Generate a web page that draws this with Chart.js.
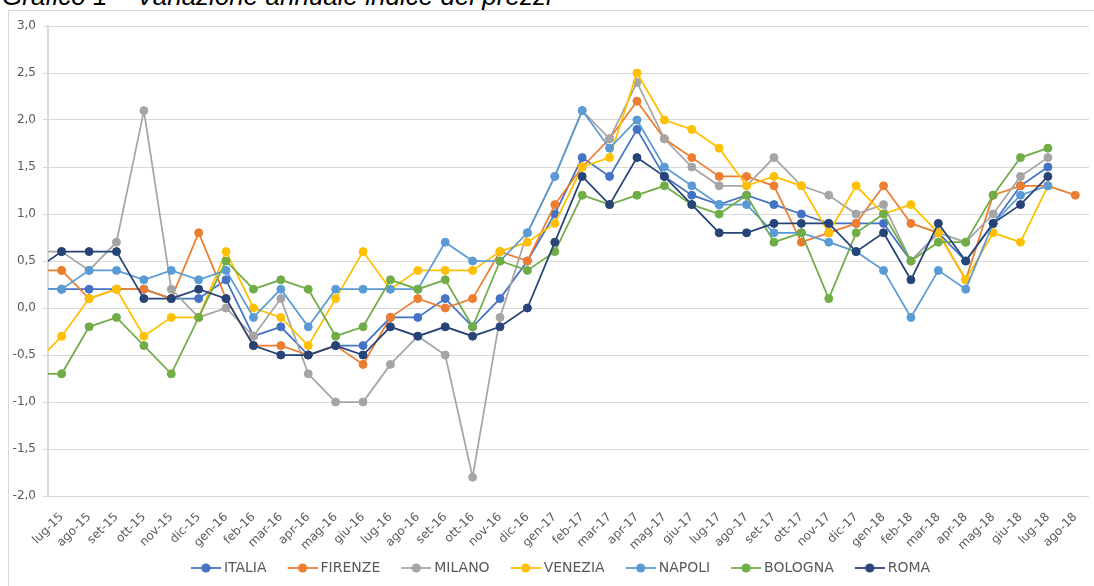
<!DOCTYPE html>
<html><head><meta charset="utf-8">
<script src="https://cdn.jsdelivr.net/npm/chart.js@4.4.1/dist/chart.umd.min.js"></script>
<style>
html,body{margin:0;padding:0;background:#fff;overflow:hidden;}
#wrap{position:relative;width:1094px;height:586px;overflow:hidden;background:#fff;}
#frame{position:absolute;left:8px;top:10px;width:1200px;height:700px;border:1px solid #d9d9d9;box-sizing:border-box;}
#title{position:absolute;left:2px;top:-16px;font:italic 26px "Liberation Sans",Arial,sans-serif;line-height:25px;color:#000;white-space:nowrap;}
canvas{position:absolute;left:0;top:0;}
</style></head><body>
<div id="wrap"><div id="frame"></div><div id="title">Grafico 1 – Variazione annuale indice dei prezzi</div><canvas id="c" width="1094" height="586"></canvas></div>
<script>
// index 0 = giu-15 (only its connecting segment is visible, clipped at the axis)
const categories = ['giu-15','lug-15','ago-15','set-15','ott-15','nov-15','dic-15','gen-16','feb-16','mar-16','apr-16','mag-16','giu-16','lug-16','ago-16','set-16','ott-16','nov-16','dic-16','gen-17','feb-17','mar-17','apr-17','mag-17','giu-17','lug-17','ago-17','set-17','ott-17','nov-17','dic-17','gen-18','feb-18','mar-18','apr-18','mag-18','giu-18','lug-18','ago-18'];
const seriesNames = ['ITALIA','FIRENZE','MILANO','VENEZIA','NAPOLI','BOLOGNA','ROMA'];
const seriesColors = ['#4472C4','#ED7D31','#A5A5A5','#FFC000','#5B9BD5','#70AD47','#264478'];
const ITALIA  = [0.2, 0.2,0.2,0.2,0.2,0.1,0.1,0.3,-0.3,-0.2,-0.5,-0.4,-0.4,-0.1,-0.1,0.1,-0.2,0.1,0.5, 1.0,1.6,1.4,1.9,1.4,1.2,1.1,1.2,1.1,1.0,0.9,0.9, 0.9,0.5,0.8,0.5,0.9,1.3,1.5,null];
const FIRENZE = [0.4, 0.4,0.1,0.2,0.2,0.1,0.8,0.1,-0.4,-0.4,-0.5,-0.4,-0.6,-0.1,0.1,0.0,0.1,0.6,0.5, 1.1,1.5,1.8,2.2,1.8,1.6,1.4,1.4,1.3,0.7,0.8,0.9, 1.3,0.9,0.8,0.3,1.2,1.3,1.3,1.2];
const MILANO  = [0.6, 0.6,0.4,0.7,2.1,0.2,-0.1,0.0,-0.3,0.1,-0.7,-1.0,-1.0,-0.6,-0.3,-0.5,-1.8,-0.1,0.8, 1.4,2.1,1.8,2.4,1.8,1.5,1.3,1.3,1.6,1.3,1.2,1.0, 1.1,0.5,0.8,0.7,1.0,1.4,1.6,null];
const VENEZIA = [-0.6, -0.3,0.1,0.2,-0.3,-0.1,-0.1,0.6,0.0,-0.1,-0.4,0.1,0.6,0.2,0.4,0.4,0.4,0.6,0.7, 0.9,1.5,1.6,2.5,2.0,1.9,1.7,1.3,1.4,1.3,0.8,1.3, 1.0,1.1,0.8,0.3,0.8,0.7,1.3,null];
const NAPOLI  = [0.2, 0.2,0.4,0.4,0.3,0.4,0.3,0.4,-0.1,0.2,-0.2,0.2,0.2,0.2,0.2,0.7,0.5,0.5,0.8, 1.4,2.1,1.7,2.0,1.5,1.3,1.1,1.1,0.8,0.8,0.7,0.6, 0.4,-0.1,0.4,0.2,0.9,1.2,1.3,null];
const BOLOGNA = [-0.7, -0.7,-0.2,-0.1,-0.4,-0.7,-0.1,0.5,0.2,0.3,0.2,-0.3,-0.2,0.3,0.2,0.3,-0.2,0.5,0.4, 0.6,1.2,1.1,1.2,1.3,1.1,1.0,1.2,0.7,0.8,0.1,0.8, 1.0,0.5,0.7,0.7,1.2,1.6,1.7,null];
const ROMA    = [0.4, 0.6,0.6,0.6,0.1,0.1,0.2,0.1,-0.4,-0.5,-0.5,-0.4,-0.5,-0.2,-0.3,-0.2,-0.3,-0.2,0.0, 0.7,1.4,1.1,1.6,1.4,1.1,0.8,0.8,0.9,0.9,0.9,0.6, 0.8,0.3,0.9,0.5,0.9,1.1,1.4,null];
const yTicks = [-2.0,-1.5,-1.0,-0.5,0.0,0.5,1.0,1.5,2.0,2.5,3.0];
const seriesValues = [ITALIA, FIRENZE, MILANO, VENEZIA, NAPOLI, BOLOGNA, ROMA];

Chart.defaults.font.family = '"DejaVu Sans", Verdana, sans-serif';
Chart.defaults.color = '#595959';

const LW = 1.75, PR = 4;
function legendMarker(color) {
  const B = 39, W = B + 8, H = 12;
  const cv = document.createElement('canvas');
  cv.width = W; cv.height = H;
  const g = cv.getContext('2d');
  g.strokeStyle = color; g.lineWidth = LW;
  g.beginPath(); g.moveTo(W - 30, H / 2); g.lineTo(W, H / 2); g.stroke();
  g.fillStyle = color;
  g.beginPath(); g.arc(W - 15, H / 2, PR + 0.6, 0, Math.PI * 2); g.fill();
  return cv;
}
const markers = seriesColors.map(legendMarker);

const datasets = seriesNames.map((name, k) => ({
  label: name,
  data: seriesValues[k].map((v, i) => ({x: i, y: v})),
  borderColor: seriesColors[k],
  backgroundColor: seriesColors[k],
  pointBackgroundColor: seriesColors[k],
  pointBorderColor: seriesColors[k],
  pointBorderWidth: 1,
  pointRadius: PR,
  borderWidth: LW,
  tension: 0,
  clip: 0,
  order: seriesNames.length - k
}));

const legendShift = {
  id: 'legendShift',
  afterLayout(chart) { chart.legend.left += 8.5; chart.legend.right += 8.5; }
};

new Chart(document.getElementById('c'), {
  type: 'line',
  data: { datasets },
  plugins: [legendShift],
  options: {
    responsive: false,
    animation: false,
    events: [],
    devicePixelRatio: 1,
    layout: { padding: { top: 26, right: 3, bottom: 1, left: 0 } },
    scales: {
      x: {
        type: 'linear',
        min: 0.5, max: categories.length - 0.5,
        afterBuildTicks: (s) => { s.ticks = categories.map((c, i) => ({value: i})).filter(t => t.value >= 1); },
        afterFit: (s) => { s.height = 57; s.paddingLeft = 0; s.paddingRight = 0; },
        grid: { display: false },
        border: { display: false },
        ticks: {
          autoSkip: false, minRotation: 45, maxRotation: 45, padding: 6,
          font: { size: 12 }, color: '#595959',
          callback: (v) => categories[v]
        }
      },
      y: {
        min: -2, max: 3,
        afterBuildTicks: (s) => { s.ticks = yTicks.map(v => ({value: v})); },
        afterFit: (s) => { s.width = 48; },
        grid: { color: '#d9d9d9', lineWidth: 1, drawTicks: true, tickLength: 5, tickColor: '#d9d9d9' },
        border: { display: true, color: '#d9d9d9', width: 2 },
        ticks: {
          padding: 7, font: { size: 12 }, color: '#595959',
          callback: (v) => v.toFixed(1).replace('.', ',')
        }
      }
    },
    plugins: {
      tooltip: { enabled: false },
      legend: {
        position: 'bottom',
        labels: {
          usePointStyle: true,
          pointStyleWidth: 39,
          padding: 8,
          font: { size: 14 },
          color: '#595959',
          generateLabels: (chart) => chart.data.datasets.map((d, i) => ({
            text: d.label, fillStyle: d.borderColor, strokeStyle: d.borderColor,
            lineWidth: 0, pointStyle: markers[i], hidden: false, datasetIndex: i, fontColor: '#595959'
          }))
        }
      }
    }
  }
});
</script>
</body></html>
